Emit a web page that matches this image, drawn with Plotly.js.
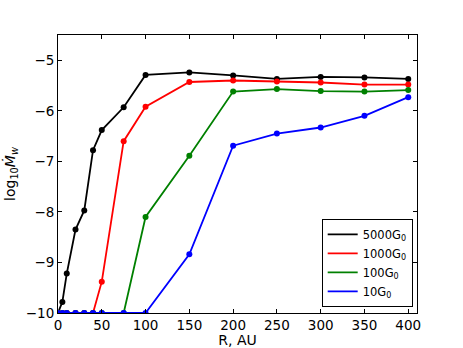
<!DOCTYPE html>
<html>
<head>
<meta charset="utf-8">
<script src="https://cdn.plot.ly/plotly-3.0.1.min.js"></script>
<style>
  body { margin: 0; padding: 0; background: #fff; }
  #plot { width: 463px; height: 348px; }
</style>
</head>
<body>
<div id="plot"></div>
<script>

var radii = [0, 5, 10, 20, 30, 40, 50, 75, 100, 150, 200, 250, 300, 350, 400];

var rate5000 = [-10, -9.78, -9.22, -8.35, -7.97, -6.78, -6.38, -5.93, -5.29, -5.24, -5.30, -5.37, -5.33, -5.34, -5.37];
var rate1000 = [-10, -10, -10, -10, -10, -10, -9.38, -6.60, -5.92, -5.43, -5.40, -5.42, -5.44, -5.48, -5.48];
var rate100  = [-10, -10, -10, -10, -10, -10, -10, -10, -8.10, -6.89, -5.62, -5.57, -5.61, -5.62, -5.59];
var rate10   = [-10, -10, -10, -10, -10, -10, -10, -10, -10, -8.84, -6.69, -6.45, -6.33, -6.10, -5.73];

var seriesNames = ["5000G<sub>0</sub>", "1000G<sub>0</sub>", "100G<sub>0</sub>", "10G<sub>0</sub>"];
var seriesData = [rate5000, rate1000, rate100, rate10];
var seriesColors = ["#000000", "#ff0000", "#008000", "#0000ff"];

var xTicks = [0, 50, 100, 150, 200, 250, 300, 350, 400];
var yTicks = [-10, -9, -8, -7, -6, -5];
var yTickText = ["\u221210", "\u22129", "\u22128", "\u22127", "\u22126", "\u22125"];

var traces = [];

for (var i = 0; i < seriesData.length; i++) {
    traces.push({
        x: radii,
        y: seriesData[i],
        type: "scatter",
        mode: "lines+markers",
        line: {color: seriesColors[i], width: 1.8},
        marker: {color: seriesColors[i], size: 6},
        showlegend: false
    });
}

// legend shows only the line sample, like matplotlib
for (var j = 0; j < seriesData.length; j++) {
    traces.push({
        x: [null],
        y: [null],
        type: "scatter",
        mode: "lines",
        name: seriesNames[j],
        line: {color: seriesColors[j], width: 1.8}
    });
}

var layout = {
    width: 463,
    height: 348,
    margin: {l: 58, r: 46, t: 35, b: 35},
    paper_bgcolor: "#ffffff",
    plot_bgcolor: "#ffffff",
    font: {family: "DejaVu Sans", size: 13.5, color: "#000000"},
    showlegend: true,
    legend: {
        x: 0.988,
        y: 0.022,
        xanchor: "right",
        yanchor: "bottom",
        bgcolor: "#ffffff",
        bordercolor: "#000000",
        borderwidth: 1,
        font: {family: "DejaVu Sans", size: 11.5},
        tracegroupgap: 0
    },
    xaxis: {
        title: {text: "R, AU", standoff: 4, font: {size: 14}},
        range: [0, 410],
        tickvals: xTicks,
        ticktext: xTicks.map(String),
        ticks: "inside",
        ticklen: 4,
        tickcolor: "#000000",
        showline: true,
        linecolor: "#000000",
        linewidth: 1,
        mirror: "ticks",
        showgrid: false,
        zeroline: false
    },
    yaxis: {
        title: {text: "log<sub>10</sub><i>\u1E40</i><sub><i>w</i></sub>", standoff: 6, font: {size: 14}},
        range: [-10, -4.5],
        tickvals: yTicks,
        ticktext: yTickText,
        ticks: "inside",
        ticklen: 4,
        tickcolor: "#000000",
        showline: true,
        linecolor: "#000000",
        linewidth: 1,
        mirror: "ticks",
        showgrid: false,
        zeroline: false
    }
};

Plotly.newPlot("plot", traces, layout, {displayModeBar: false, staticPlot: true});

</script>
</body>
</html>
